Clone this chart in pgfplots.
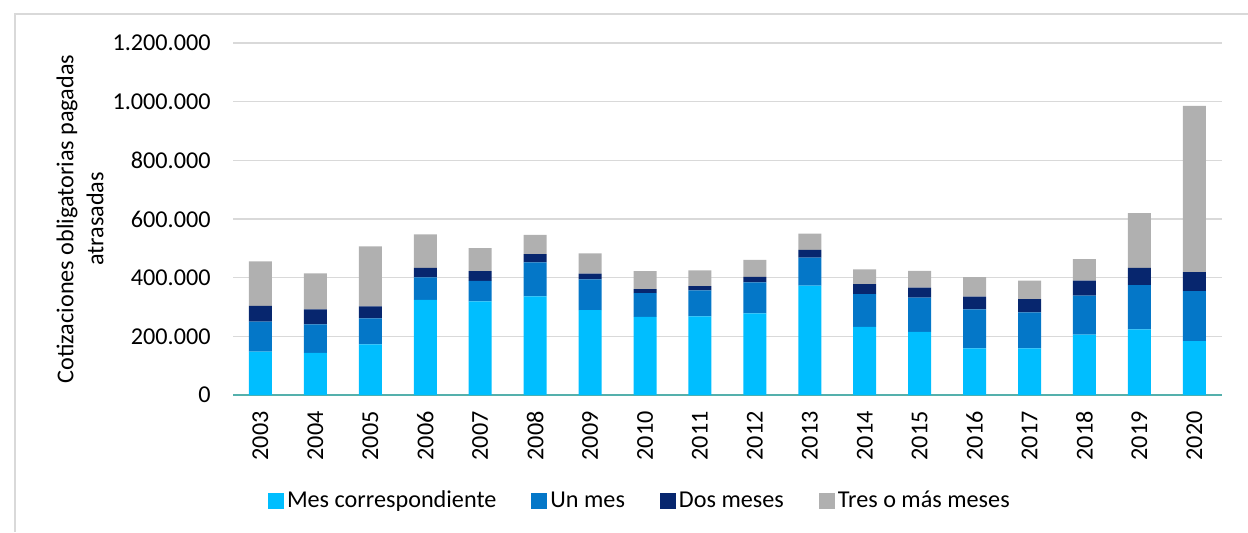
\documentclass[border=0pt]{standalone}
\usepackage{fontspec}
\setmainfont{Carlito}
\usepackage{pgfplots}
\usepackage{pgfplotstable}
\pgfplotsset{compat=1.18}
\definecolor{c1}{RGB}{0,190,255}
\definecolor{c2}{RGB}{4,119,200}
\definecolor{c3}{RGB}{7,38,110}
\definecolor{c4}{RGB}{176,176,176}
\definecolor{gridc}{RGB}{217,217,217}
\definecolor{basec}{RGB}{84,176,172}
\pgfplotstableread{
x year light medium dark gray
0 2003 148000 102000 54000 152000
1 2004 144000 97000 51000 123000
2 2005 173000 88000 41000 205000
3 2006 324000 77000 32000 115000
4 2007 319000 70000 33000 79000
5 2008 336000 116000 28000 66000
6 2009 289000 105000 20000 69000
7 2010 266000 81000 14000 61000
8 2011 268000 89000 14000 54000
9 2012 278000 106000 19000 58000
10 2013 373000 95000 27000 55000
11 2014 232000 112000 34000 50000
12 2015 215000 117000 34000 57000
13 2016 159000 133000 43000 67000
14 2017 159000 123000 45000 63000
15 2018 206000 133000 51000 73000
16 2019 224000 151000 58000 187000
17 2020 184000 170000 65000 567000
}\datatable
\begin{document}
\fontsize{12.1}{15}\selectfont
\begin{tikzpicture}
\useasboundingbox (0,0) rectangle (624pt,-266pt);
\draw[gridc, line width=0.6pt] (7.5pt,-266pt) -- (7.5pt,-7pt) -- (624pt,-7pt);
\begin{axis}[
  at={(116.5pt,-197.5pt)}, anchor=south west,
  scale only axis, width=494.4pt, height=176pt,
  ybar stacked, bar width=11.5pt,
  xmin=-0.5, xmax=17.5, ymin=0, ymax=1200000,
  xtick={0,...,17},
  xticklabels={2003,2004,2005,2006,2007,2008,2009,2010,2011,2012,2013,2014,2015,2016,2017,2018,2019,2020},
  ytick={0,200000,400000,600000,800000,1000000,1200000},
  scaled y ticks=false,
  yticklabel={\pgfmathprintnumber[fixed, precision=0, 1000 sep={.}, assume math mode=true]{\tick}},
  tick style={draw=none}, major tick length=0pt,
  xticklabel style={yshift=-8pt, rotate=90, anchor=east, inner sep=0pt},
  yticklabel style={anchor=east, inner sep=0pt, xshift=-11pt},
  ticklabel style={font=\fontsize{12.1}{15}\selectfont, text=black},
  ymajorgrids, grid style={gridc, line width=0.6pt},
  axis x line*=bottom, axis y line*=left,
  x axis line style={basec, line width=0.8pt, -},
  y axis line style={draw=none},
  ylabel={Cotizaciones obligatorias pagadas\\atrasadas},
  every axis y label/.style={at={(rel axis cs:0,0.5)}, xshift=-76.5pt, rotate=90, anchor=center, align=center, font=\fontsize{12.1}{15}\selectfont},
  legend style={at={(0.0354,-0.3020)}, anchor=west, draw=none, fill=none,
    legend columns=-1, inner sep=0pt, outer sep=0pt,
    font=\fontsize{12.1}{15}\selectfont,
    nodes={inner sep=1.5pt},
    /tikz/every even column/.append style={column sep=16pt}},
  legend image code/.code={\fill[#1] (0pt,-4pt) rectangle (8pt,4pt);},
]
\addplot[fill=c1, draw=none] table[x=x, y=light] {\datatable};
\addplot[fill=c2, draw=none] table[x=x, y=medium] {\datatable};
\addplot[fill=c3, draw=none] table[x=x, y=dark] {\datatable};
\addplot[fill=c4, draw=none] table[x=x, y=gray] {\datatable};
\legend{Mes correspondiente, Un mes, Dos meses, Tres o más meses}
\end{axis}
\end{tikzpicture}
\end{document}
